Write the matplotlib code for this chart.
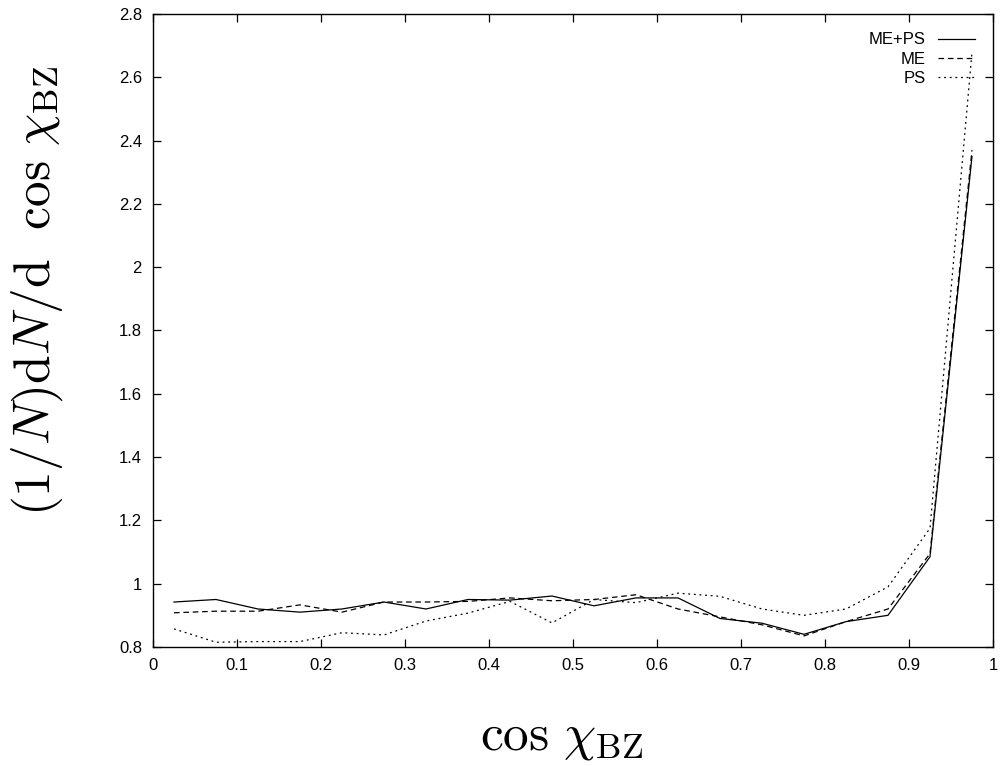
import matplotlib
matplotlib.use("Agg")
import matplotlib.pyplot as plt
import numpy as np

plt.rcParams['font.family'] = ['Liberation Sans', 'DejaVu Sans']
plt.rcParams['mathtext.fontset'] = 'cm'

x = [0.025, 0.075, 0.125, 0.175, 0.225, 0.275, 0.325, 0.375, 0.425, 0.475,
     0.525, 0.575, 0.625, 0.675, 0.725, 0.775, 0.825, 0.875, 0.925, 0.975]
me_ps = [0.942, 0.950, 0.920, 0.910, 0.920, 0.942, 0.920, 0.950, 0.948, 0.961,
         0.930, 0.955, 0.955, 0.890, 0.875, 0.840, 0.880, 0.900, 1.085, 2.35]
me = [0.908, 0.913, 0.913, 0.933, 0.910, 0.942, 0.942, 0.944, 0.955, 0.946,
      0.950, 0.965, 0.920, 0.895, 0.870, 0.835, 0.880, 0.920, 1.095, 2.37]
ps = [0.857, 0.815, 0.817, 0.817, 0.845, 0.838, 0.882, 0.907, 0.944, 0.876,
      0.950, 0.940, 0.970, 0.960, 0.920, 0.900, 0.920, 0.990, 1.175, 2.68]
labels = ["ME+PS", "ME", "PS"]

xticks = [0, 0.1, 0.2, 0.3, 0.4, 0.5, 0.6, 0.7, 0.8, 0.9, 1]
xticklabels = ["0", "0.1", "0.2", "0.3", "0.4", "0.5", "0.6", "0.7", "0.8", "0.9", "1"]
yticks = [0.8, 1.0, 1.2, 1.4, 1.6, 1.8, 2.0, 2.2, 2.4, 2.6, 2.8]
yticklabels = ["0.8", "1", "1.2", "1.4", "1.6", "1.8", "2", "2.2", "2.4", "2.6", "2.8"]

fig = plt.figure(figsize=(10, 7.66), dpi=100)
ax = fig.add_axes([0.153, 0.1554, 0.840, 0.8263])

lw = 0.9
l1, = ax.plot(x, me_ps, color='black', lw=lw, label=labels[0])
l2, = ax.plot(x, me, color='black', lw=lw, label=labels[1])
l2.set_dashes([4.5, 3])
l3, = ax.plot(x, ps, color='black', lw=lw, label=labels[2])
l3.set_dashes([1.5, 3])

ax.set_xlim(0, 1)
ax.set_ylim(0.8, 2.8)
ax.set_xticks(xticks)
ax.set_xticklabels(xticklabels)
ax.set_yticks(yticks)
ax.set_yticklabels(yticklabels)
ax.tick_params(direction='in', length=6, width=0.9, top=True, right=True,
               labelsize=12, pad=8)
for s in ax.spines.values():
    s.set_linewidth(1.0)

fig.text(0.562, 1 - 738 / 766, r'$\cos\,\chi_{\mathrm{BZ}}$', fontsize=37,
         ha='center', va='center')
fig.text(0.037, 1 - 291 / 766, r'$(1/N)\mathrm{d}N/\mathrm{d}\ \ \cos\,\chi_{\mathrm{BZ}}$',
         fontsize=37, rotation=90, ha='center', va='center')

leg = ax.legend(loc='upper right', frameon=False, markerfirst=False, fontsize=12,
                handlelength=2.2, handletextpad=0.75, labelspacing=0.25,
                borderaxespad=0.7)

fig.savefig('out.png', dpi=100)
